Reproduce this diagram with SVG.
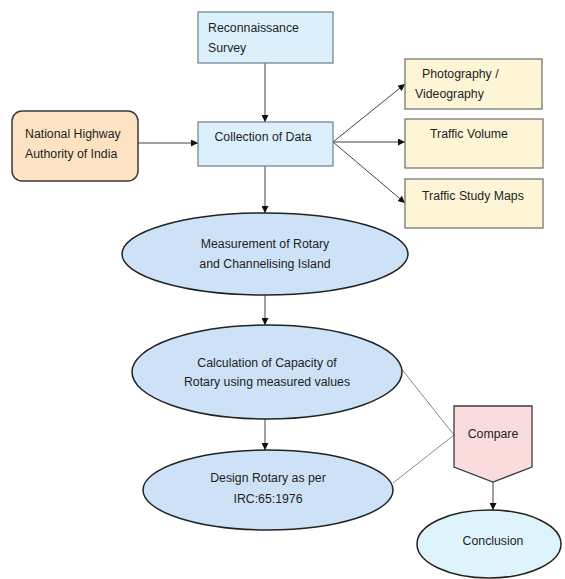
<svg xmlns="http://www.w3.org/2000/svg" width="565" height="579" viewBox="0 0 565 579">
  <defs>
    <marker id="arrow" viewBox="0 0 10 10" refX="10" refY="5" markerWidth="7" markerHeight="7" orient="auto" markerUnits="userSpaceOnUse">
      <path d="M0,0 L10,5 L0,10 z" fill="#111"/>
    </marker>
  </defs>
  <style>
    text { font-family: "Liberation Sans", Arial, sans-serif; font-size: 12.3px; fill: #1e1e1e; }
    .mid { text-anchor: middle; }
    .blue { fill: #dcf0fb; stroke: #6d7f8c; stroke-width: 1.2; }
    .peach { fill: #fde3c3; stroke: #3a3a3a; stroke-width: 1.5; }
    .cream { fill: #fdf5d6; stroke: #6b6b6b; stroke-width: 1.2; }
    .oval { fill: #cde2f6; stroke: #222; stroke-width: 1.5; }
    .oval2 { fill: #dff3fc; stroke: #222; stroke-width: 1.5; }
    .pink { fill: #fbdcdc; stroke: #3a3a3a; stroke-width: 1.3; }
    .conn { stroke: #444; stroke-width: 1; fill: none; }
    .thin { stroke: #888; stroke-width: 1; fill: none; }
  </style>

  <!-- connectors -->
  <g id="connectors">
    <line class="conn" x1="265" y1="63" x2="265" y2="122" marker-end="url(#arrow)"/>
    <line class="conn" x1="138" y1="143" x2="198" y2="143" marker-end="url(#arrow)"/>
    <line class="conn" x1="333" y1="142" x2="405" y2="84" marker-end="url(#arrow)"/>
    <line class="conn" x1="333" y1="142" x2="405" y2="142" marker-end="url(#arrow)"/>
    <line class="conn" x1="333" y1="142" x2="405" y2="203" marker-end="url(#arrow)"/>
    <line class="conn" x1="265" y1="166" x2="265" y2="213" marker-end="url(#arrow)"/>
    <line class="conn" x1="265" y1="295" x2="265" y2="325" marker-end="url(#arrow)"/>
    <line class="conn" x1="265" y1="419" x2="265" y2="450" marker-end="url(#arrow)"/>
    <line class="thin" x1="400" y1="367" x2="454" y2="435"/>
    <line class="thin" x1="393" y1="483" x2="454" y2="435"/>
    <line class="conn" x1="493" y1="482" x2="493" y2="510" marker-end="url(#arrow)"/>
  </g>

  <g id="reconnaissance">
    <rect class="blue" x="198" y="12" width="135" height="51"/>
    <text x="208" y="32">Reconnaissance</text>
    <text x="208" y="52">Survey</text>
  </g>

  <g id="nhai">
    <rect class="peach" x="12" y="111" width="126" height="70" rx="10" ry="10"/>
    <text x="25" y="138">National Highway</text>
    <text x="25" y="158">Authority of India</text>
  </g>

  <g id="collection">
    <rect class="blue" x="198" y="122" width="135" height="44"/>
    <text class="mid" x="263" y="141">Collection of Data</text>
  </g>

  <g id="photography">
    <rect class="cream" x="405" y="59" width="137" height="50"/>
    <text x="422" y="78">Photography /</text>
    <text x="415" y="98">Videography</text>
  </g>

  <g id="traffic-volume">
    <rect class="cream" x="405" y="119" width="138" height="49"/>
    <text x="430" y="138">Traffic Volume</text>
  </g>

  <g id="traffic-maps">
    <rect class="cream" x="405" y="179" width="138" height="49"/>
    <text x="422" y="200">Traffic Study Maps</text>
  </g>

  <g id="measurement">
    <ellipse class="oval" cx="265" cy="254" rx="143" ry="41"/>
    <text class="mid" x="265" y="248">Measurement of Rotary</text>
    <text class="mid" x="265" y="268">and Channelising Island</text>
  </g>

  <g id="calculation">
    <ellipse class="oval" cx="267" cy="372" rx="135" ry="47"/>
    <text class="mid" x="267" y="367">Calculation of Capacity of</text>
    <text class="mid" x="267" y="386">Rotary using measured values</text>
  </g>

  <g id="design">
    <ellipse class="oval" cx="268" cy="490" rx="125" ry="40"/>
    <text class="mid" x="268" y="482">Design Rotary as per</text>
    <text class="mid" x="268" y="503">IRC:65:1976</text>
  </g>

  <g id="compare">
    <path class="pink" d="M454,406 L532,406 L532,467 L493,482 L454,467 Z"/>
    <text class="mid" x="493" y="438">Compare</text>
  </g>

  <g id="conclusion">
    <ellipse class="oval2" cx="489" cy="544" rx="72" ry="34"/>
    <text class="mid" x="493" y="545">Conclusion</text>
  </g>
</svg>
